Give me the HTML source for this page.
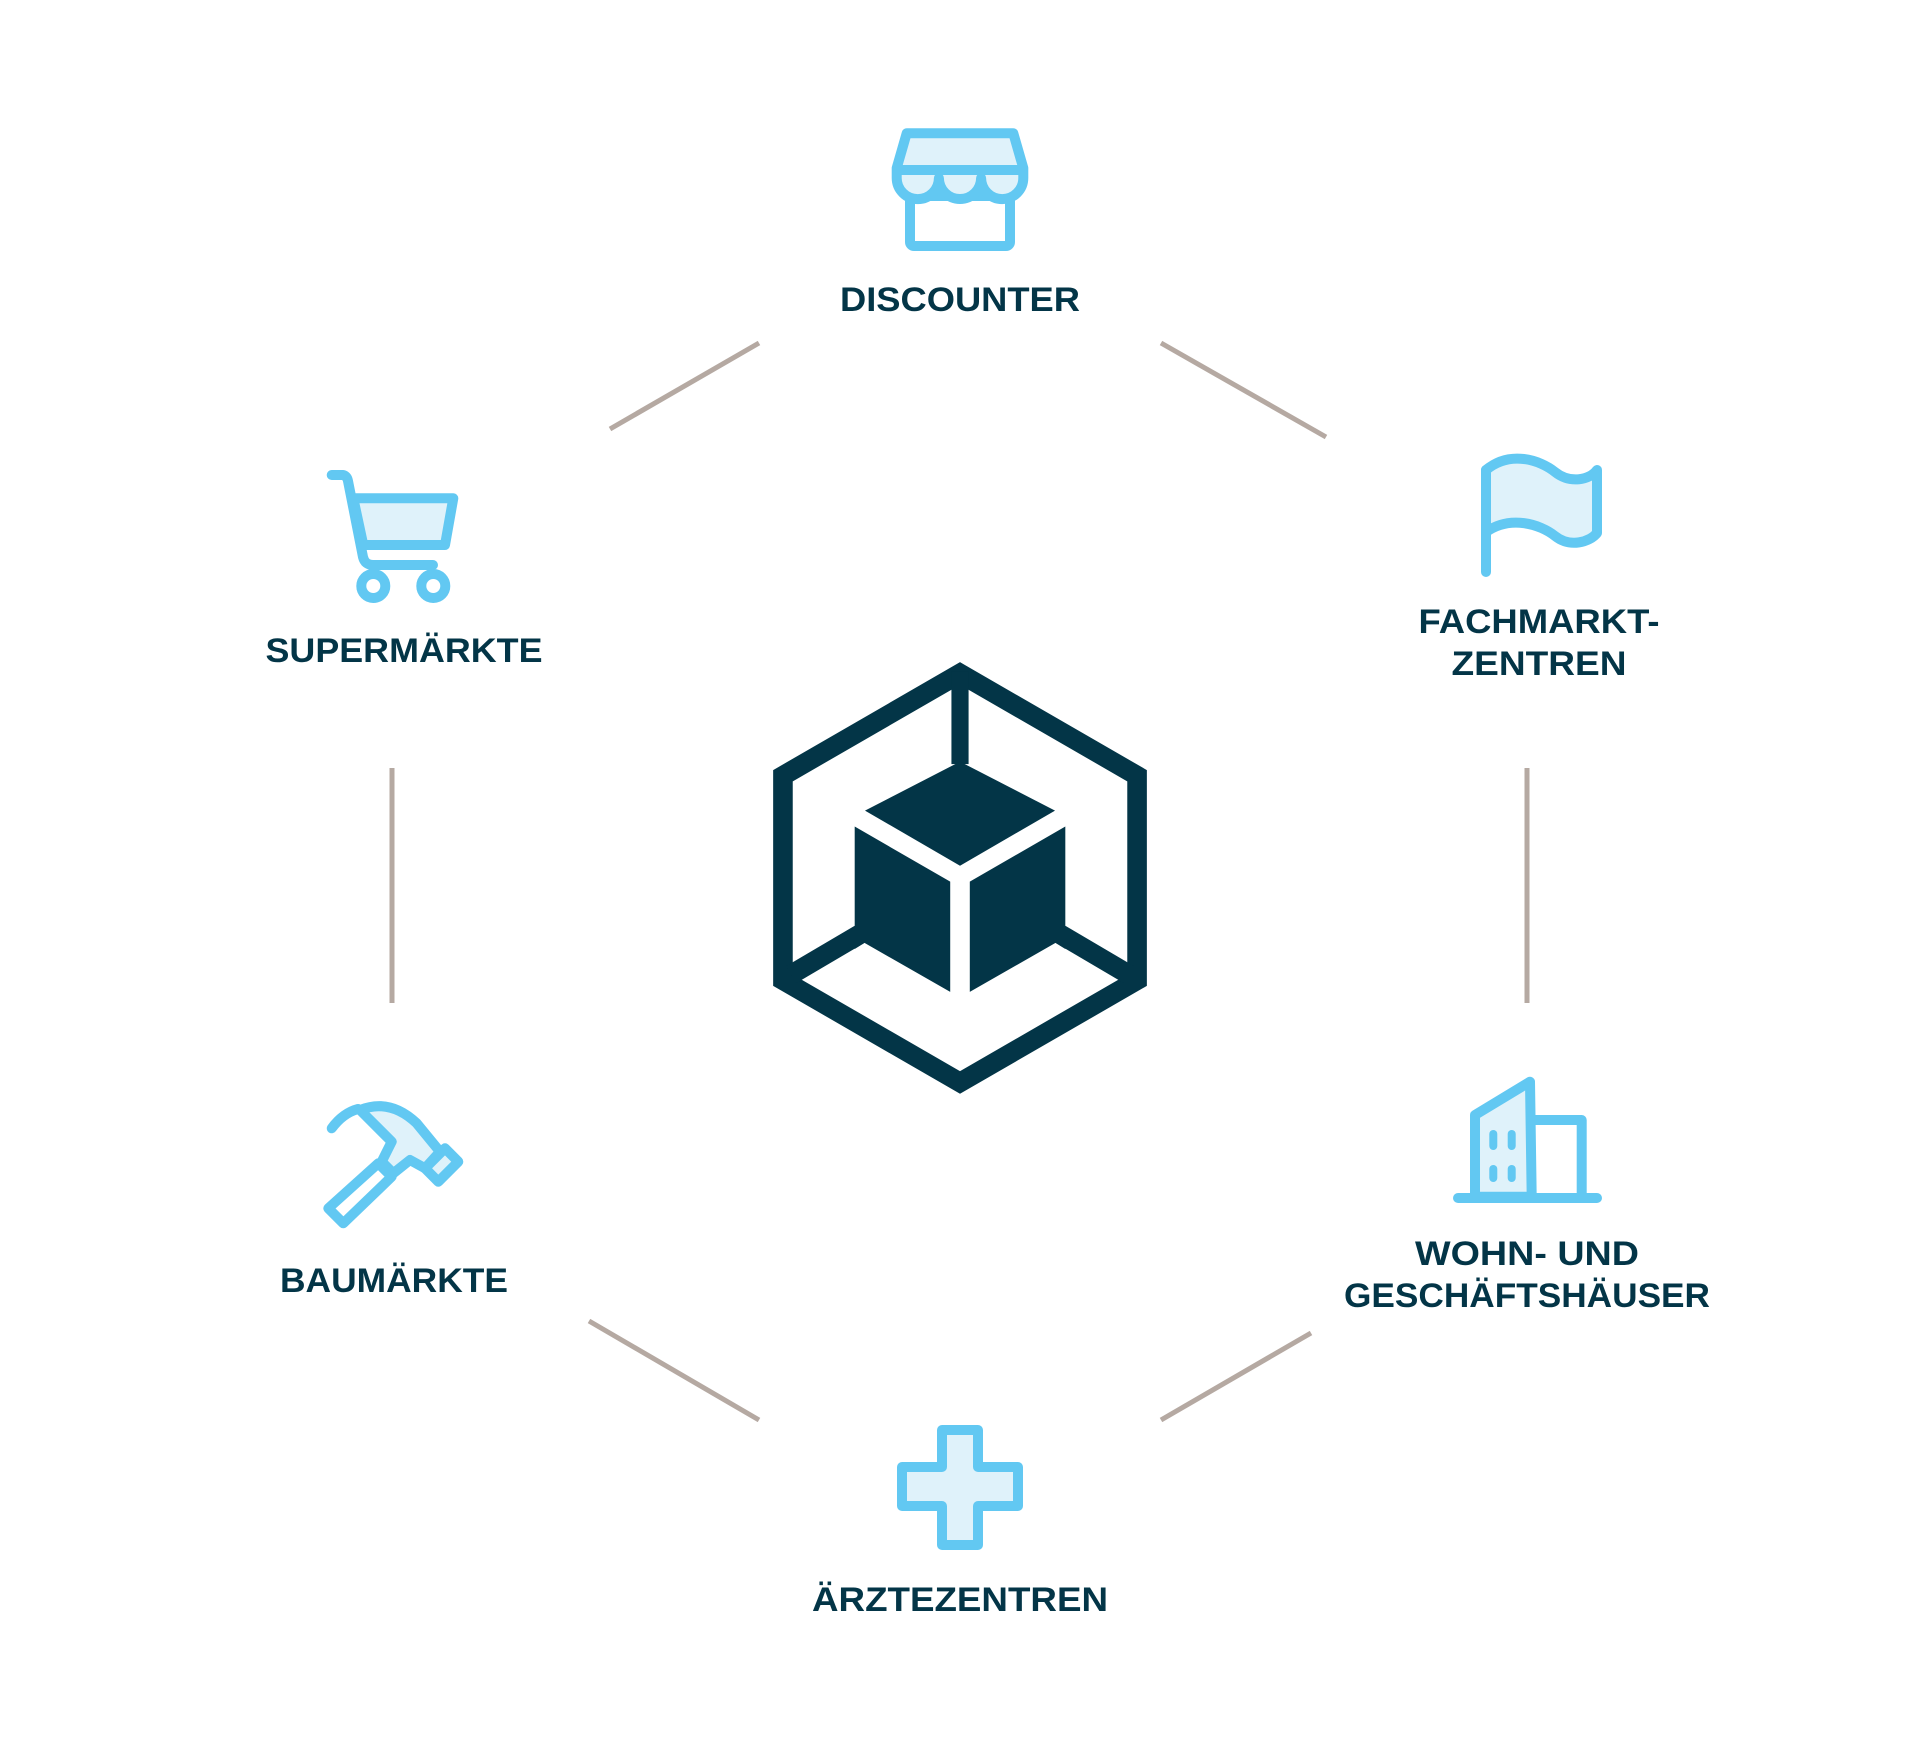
<!DOCTYPE html>
<html><head><meta charset="utf-8"><style>
html,body{margin:0;padding:0;background:#fff;}
svg{display:block}
text{font-family:"Liberation Sans",sans-serif;font-weight:bold;fill:#033547;font-size:34px;text-anchor:middle}
</style></head><body>
<svg width="1920" height="1762" viewBox="0 0 1920 1762" xmlns="http://www.w3.org/2000/svg">
<g stroke="#b5a9a2" stroke-width="5">
<line x1="610" y1="429" x2="759" y2="343"/>
<line x1="1161" y1="343" x2="1326" y2="437"/>
<line x1="1527" y1="768" x2="1527" y2="1003"/>
<line x1="1311" y1="1333" x2="1161" y2="1420"/>
<line x1="759" y1="1420" x2="589" y2="1321"/>
<line x1="392" y1="768" x2="392" y2="1003"/>
</g>
<g transform="scale(1.2245)" fill="#033547">
<polygon points="784,550 928.6,633.5 928.6,800.5 784,884 639.4,800.5 639.4,633.5" fill="none" stroke="#033547" stroke-width="16" stroke-linejoin="miter"/>
<rect x="777" y="548" width="14" height="76"/>
<polygon points="784,622 861.6,662 784,707 706.4,662"/>
<polygon points="698,675 776,720 776,810 706,770 698,775"/>
<polygon points="870,675 792,720 792,810 862,770 870,775"/>
<polygon points="698,756 706,770 650,803 642,789"/>
<polygon points="870,756 862,770 918,803 926,789"/>
</g>
<g stroke="#62c8f2" stroke-width="10" stroke-linejoin="round" stroke-linecap="round" fill="#dff2fa">
<!-- store -->
<rect x="910" y="196" width="100" height="50" rx="4" fill="#fff"/>
<path d="M896.7,178 L896.7,168 L906.7,133.3 L1013.3,133.3 L1023.3,168 L1023.3,178 A21.1,21.1 0 0 1 981.1,178 A21.1,21.1 0 0 1 938.9,178 A21.1,21.1 0 0 1 896.7,178 Z"/>
<line x1="897" y1="170" x2="1023" y2="170"/>
<!-- cart -->
<polygon points="353.3,498.3 453.3,498.3 445,545 363.3,545"/>
<path d="M331.7,475 L343,475 Q347,476 348,481 L363,557 Q365,565 373,565 L433,565" fill="none"/>
<circle cx="373.3" cy="586" r="12" fill="#fff"/>
<circle cx="433.3" cy="586" r="12" fill="#fff"/>
<!-- flag -->
<path d="M1486,470 C1510,450 1540,460 1555,472 C1570,484 1590,480 1597,470 L1597,533 C1590,542 1570,548 1555,536 C1540,524 1510,515 1486,532 Z"/>
<line x1="1486" y1="470" x2="1486" y2="572"/>
<!-- hammer -->
<polygon points="328.3,1208.3 343.3,1223.3 391.7,1176.7 378.3,1163.3" fill="#fff"/>
<path d="M360,1110 L391.7,1141.7 L381.7,1161.7 L393.3,1173.3 L410,1160 L425,1168.3 L440,1151.7 L416.7,1123.3 Q390,1098 360,1110 Z"/>
<path d="M331.7,1128.3 Q343,1113 358,1109" fill="none"/>
<polygon points="425,1168.3 438.3,1181.7 458.3,1161.7 445,1148.3"/>
<!-- building -->
<polygon points="1475,1115 1530,1081.7 1531.7,1196.7 1475,1196.7"/>
<polyline points="1533,1120 1581.7,1120 1581.7,1196.7" fill="none"/>
<line x1="1458" y1="1198" x2="1597" y2="1198"/>
<g stroke-width="8"><line x1="1493.3" y1="1134" x2="1493.3" y2="1146"/><line x1="1511.7" y1="1134" x2="1511.7" y2="1146"/><line x1="1493.3" y1="1169" x2="1493.3" y2="1178"/><line x1="1511.7" y1="1169" x2="1511.7" y2="1178"/></g>
<!-- cross -->
<path d="M942,1430 L978,1430 L978,1467 L1018,1467 L1018,1506 L978,1506 L978,1545 L942,1545 L942,1506 L902,1506 L902,1467 L942,1467 Z"/>
</g>
<text x="960" y="311" textLength="240" lengthAdjust="spacingAndGlyphs">DISCOUNTER</text>
<text x="404" y="662" textLength="277" lengthAdjust="spacingAndGlyphs">SUPERMÄRKTE</text>
<text x="1539" y="633" textLength="241" lengthAdjust="spacingAndGlyphs">FACHMARKT-</text>
<text x="1539" y="675" textLength="175" lengthAdjust="spacingAndGlyphs">ZENTREN</text>
<text x="1527" y="1265" textLength="224" lengthAdjust="spacingAndGlyphs">WOHN- UND</text>
<text x="1527" y="1307" textLength="366" lengthAdjust="spacingAndGlyphs">GESCHÄFTSHÄUSER</text>
<text x="394" y="1292" textLength="228" lengthAdjust="spacingAndGlyphs">BAUMÄRKTE</text>
<text x="960" y="1611" textLength="296" lengthAdjust="spacingAndGlyphs">ÄRZTEZENTREN</text>
</svg>
</body></html>
